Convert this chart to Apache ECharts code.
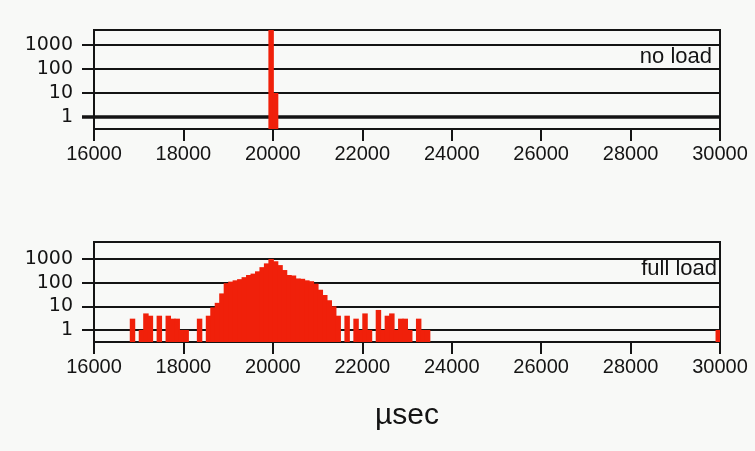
<!DOCTYPE html>
<html>
<head>
<meta charset="utf-8">
<script src="https://cdn.jsdelivr.net/npm/echarts@6/dist/echarts.min.js"></script>
<style>
html,body{margin:0;padding:0;background:#f8f9f7;}
#chart{width:755px;height:451px;}
</style>
</head>
<body>
<div id="chart"></div>
<script>
// ---- data ----
const binWidth = 100; // µsec per histogram bin
const xTicks = [16000, 18000, 20000, 22000, 24000, 26000, 28000, 30000];
const yTickValues = [1, 10, 100, 1000];

// no load: bin start (µsec) and counts
const noLoadBins   = [19900, 20000];
const noLoadCounts = [9000, 10];

// full load: bin start (µsec) and counts
const fullLoadBins = [16800, 17000, 17100, 17200, 17400, 17600, 17700, 17800, 17900, 18000,
  18300, 18500, 18600, 18700, 18800, 18900, 19000, 19100, 19200, 19300,
  19400, 19500, 19600, 19700, 19800, 19900, 20000, 20100, 20200, 20300,
  20400, 20500, 20600, 20700, 20800, 20900, 21000, 21100, 21200, 21300,
  21400, 21600, 21800, 21900, 22000, 22100, 22300, 22400, 22500, 22600,
  22700, 22800, 22900, 23000, 23200, 23300, 23400, 29900];
const fullLoadCounts = [3, 1, 5, 4, 4, 4, 3, 3, 1, 1,
  3, 4, 9, 14, 35, 95, 110, 125, 140, 170,
  210, 240, 300, 450, 650, 1000, 800, 550, 340, 210,
  200, 150, 145, 125, 115, 90, 50, 30, 18, 10,
  4, 4, 3, 1, 5, 1, 7, 1, 4, 5,
  1, 3, 3, 1, 3, 1, 1, 1];

// ---- chart ----
const RED = '#f0200a';
const INK = '#141414';
const FONT = 'Liberation Sans, Arial, sans-serif';

function pairs(bins, counts) { return bins.map((b, i) => [b, counts[i]]); }

function makeRender(yMin) {
  return function (params, api) {
    const x0 = api.value(0), v = api.value(1);
    const pTop = api.coord([x0, v]);
    const pEnd = api.coord([x0 + binWidth, v]);
    const pBase = api.coord([x0, yMin]);
    const cs = params.coordSys;
    const rect = echarts.graphic.clipRectByRect(
      { x: pTop[0], y: pTop[1], width: pEnd[0] - pTop[0] + 1, height: pBase[1] - pTop[1] },
      { x: cs.x, y: cs.y, width: cs.width, height: cs.height }
    );
    return rect && { type: 'rect', shape: rect, style: { fill: RED } };
  };
}

const topMin = 0.316, topMax = 4200;
const botMin = 0.31, botMax = 5200;

function xAxisCfg(gi) {
  return {
    gridIndex: gi, type: 'value', min: xTicks[0], max: xTicks[xTicks.length - 1], interval: 2000,
    axisLine: { show: true, lineStyle: { color: INK, width: 2 } },
    axisTick: { show: true, length: 12, lineStyle: { color: INK, width: 2 } },
    axisLabel: { fontSize: 20, color: INK, margin: 15, fontFamily: FONT, formatter: v => String(v) },
    splitLine: { show: false }
  };
}
function yAxisCfg(gi, mn, mx) {
  return {
    gridIndex: gi, type: 'log', logBase: 10, min: mn, max: mx, position: 'left',
    axisLine: { show: true, lineStyle: { color: INK, width: 2 } },
    axisTick: { show: true, customValues: yTickValues, length: 12, lineStyle: { color: INK, width: 2 } },
    axisLabel: { customValues: yTickValues, fontSize: 19, color: INK, margin: 21, fontFamily: 'DejaVu Sans, sans-serif',
      formatter: v => String(Math.round(v)) },
    splitLine: { show: true, lineStyle: { color: INK, width: 2 } }
  };
}

const chart = echarts.init(document.getElementById('chart'), null, { renderer: 'canvas' });
chart.setOption({
  backgroundColor: '#f8f9f7',
  animation: false,
  title: [
    { text: 'no load', right: 43, top: 46, padding: 0, textStyle: { fontSize: 22, fontWeight: 'normal', color: INK, fontFamily: FONT } },
    { text: 'full load', right: 38, top: 258, padding: 0, textStyle: { fontSize: 22, fontWeight: 'normal', color: INK, fontFamily: FONT } },
    { text: 'µsec', left: 375, top: 401, padding: 0, textStyle: { fontSize: 30, fontWeight: 'normal', color: INK, fontFamily: FONT } }
  ],
  grid: [
    { left: 94, top: 30, width: 626, height: 99, show: true, borderColor: INK, borderWidth: 2, backgroundColor: 'transparent' },
    { left: 94, top: 242, width: 626, height: 100, show: true, borderColor: INK, borderWidth: 2, backgroundColor: 'transparent' }
  ],
  xAxis: [xAxisCfg(0), xAxisCfg(1)],
  yAxis: [
    yAxisCfg(0, topMin, topMax),
    {
      gridIndex: 0, type: 'log', logBase: 10, min: topMin, max: topMax, position: 'left',
      axisLine: { show: false },
      axisTick: { show: true, customValues: [1], length: 12, lineStyle: { color: INK, width: 3.5 } },
      axisLabel: { show: false },
      splitLine: { show: true, lineStyle: { color: INK, width: 3.5 } }
    },
    yAxisCfg(1, botMin, botMax)
  ],
  series: [
    { type: 'custom', xAxisIndex: 0, yAxisIndex: 0, renderItem: makeRender(topMin),
      data: pairs(noLoadBins, noLoadCounts), encode: { x: 0, y: 1 } },
    { type: 'custom', xAxisIndex: 1, yAxisIndex: 2, renderItem: makeRender(botMin),
      data: pairs(fullLoadBins, fullLoadCounts), encode: { x: 0, y: 1 } }
  ]
});
</script>
</body>
</html>
